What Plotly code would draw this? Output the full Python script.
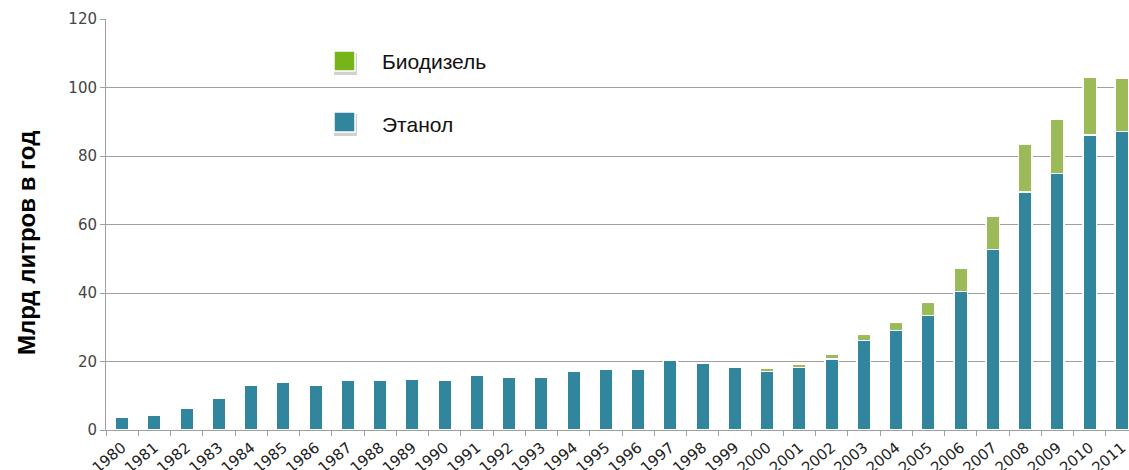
import plotly.graph_objects as go

years = [str(y) for y in range(1980, 2012)]
ethanol = [3.7, 4.2, 6.4, 9.2, 13.1, 13.9, 13.1, 14.4, 14.5, 14.7, 14.5, 15.9,
           15.5, 15.5, 17.2, 17.7, 17.7, 20.4, 19.5, 18.3, 17.1, 18.2,
           20.8, 26.1, 29.0, 33.4, 40.5, 52.7, 69.5, 74.9, 86.1, 87.2]
biodiesel = [0, 0, 0, 0, 0, 0, 0, 0, 0, 0, 0, 0,
             0, 0, 0, 0, 0, 0, 0, 0, 0.9, 1.1,
             1.3, 2.0, 2.4, 3.9, 6.6, 9.7, 14.0, 15.7, 16.9, 15.5]
legend_names = ["Биодизель", "Этанол"]
y_title = "Млрд литров в год"

teal = "#31859C"
green_bar = "#9BBB59"
green_leg = "#77B41A"

W, H = 1129, 470
L, R, T, B = 106, 0, 19, 40
pw, ph = W - L - R, H - T - B


def px(x):
    return (x - L) / pw


def py(y):
    return (H - B - y) / ph


fig = go.Figure()
fig.add_trace(go.Bar(x=years, y=ethanol, name=legend_names[1], marker_color=teal,
                     marker_line=dict(color="white", width=1.5), width=0.42, showlegend=False))
fig.add_trace(go.Bar(x=years, y=biodiesel, name=legend_names[0], marker_color=green_bar,
                     marker_line=dict(color="white", width=1.5), width=0.42, showlegend=False))

# legend drawn by hand (big squares with a soft shadow)
shapes = []
for (top, col) in [(51, green_leg), (112, teal)]:
    shapes.append(dict(type="rect", xref="paper", yref="paper", layer="above",
                       x0=px(334), x1=px(357), y0=py(top + 24), y1=py(top + 2),
                       fillcolor="rgba(0,0,0,0.18)", line_width=0))
    shapes.append(dict(type="rect", xref="paper", yref="paper", layer="above",
                       x0=px(334), x1=px(355), y0=py(top + 20), y1=py(top),
                       fillcolor=col, line=dict(color="white", width=1.5)))

annotations = [
    dict(text=legend_names[0], xref="paper", yref="paper", x=px(380), y=py(62),
         xanchor="left", yanchor="middle", showarrow=False,
         font=dict(family="Liberation Sans", size=21, color="#111")),
    dict(text=legend_names[1], xref="paper", yref="paper", x=px(380), y=py(124),
         xanchor="left", yanchor="middle", showarrow=False,
         font=dict(family="Liberation Sans", size=21, color="#111")),
    dict(text="<b>" + y_title + "</b>", xref="paper", yref="paper", x=px(26), y=py(243),
         xanchor="center", yanchor="middle", textangle=-90, showarrow=False,
         font=dict(family="Liberation Sans", size=24, color="#000")),
]

fig.update_layout(
    barmode="stack",
    width=W, height=H,
    margin=dict(l=L, r=R, t=T, b=B, pad=0),
    plot_bgcolor="white", paper_bgcolor="white",
    shapes=shapes, annotations=annotations,
    xaxis=dict(range=[-0.5, 31.22], tickangle=-40, tickson="boundaries",
               ticks="outside", ticklen=5, tickcolor="#A0A0A0", automargin=False,
               ticklabelstandoff=2,
               showline=True, linecolor="#A0A0A0", linewidth=1,
               tickfont=dict(family="DejaVu Sans", size=15, color="#222")),
    yaxis=dict(range=[0, 120], dtick=20, showgrid=True, gridcolor="#A0A0A0",
               gridwidth=1, ticks="outside", ticklen=5, tickcolor="#A0A0A0",
               automargin=False,
               showline=True, linecolor="#A0A0A0", linewidth=1, zeroline=False,
               tickfont=dict(family="DejaVu Sans", size=15, color="#444")),
    bargap=0.58,
)

# drop the default 8px body margin so the figure sits at the page corner
fig.write_html("out.html", config={"displayModeBar": False},
               post_script="document.body.style.margin='0';")
